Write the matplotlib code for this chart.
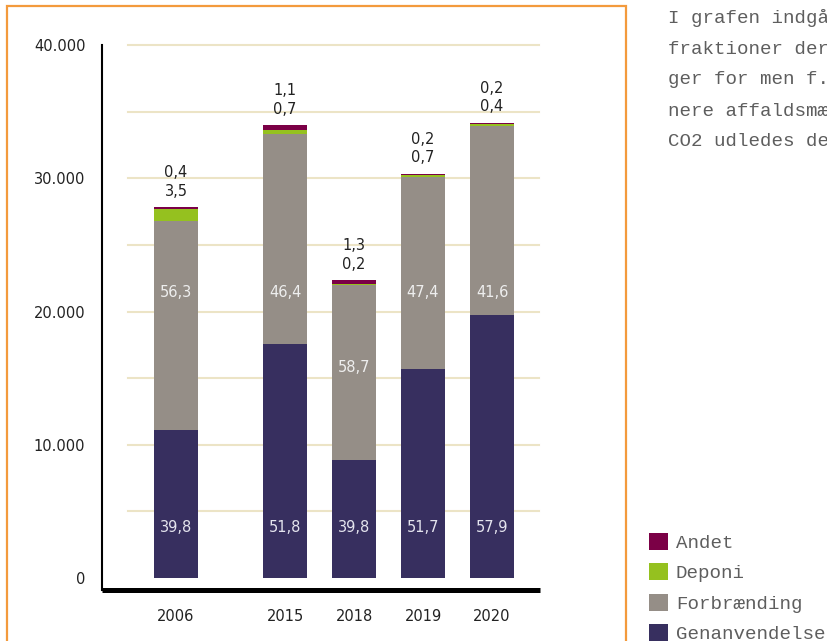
import numpy as np
import matplotlib.pyplot as plt
from matplotlib.patches import Rectangle

years = ["2006", "2015", "2018", "2019", "2020"]

# tonnes
genanvendelse = [11080, 17590, 8890, 15690, 19750]
forbraending = [15680, 15760, 13110, 14380, 14190]
deponi = [970, 240, 40, 210, 140]
andet = [110, 370, 290, 60, 70]

# percent labels as printed
gen_pct = ["39,8", "51,8", "39,8", "51,7", "57,9"]
forb_pct = ["56,3", "46,4", "58,7", "47,4", "41,6"]
dep_pct = ["3,5", "0,7", "0,2", "0,7", "0,4"]
andet_pct = ["0,4", "1,1", "1,3", "0,2", "0,2"]

side_text = ["I grafen indgår ikke de", "fraktioner der ikke", "ger for men f.eks.",
             "nere affaldsmængde", "CO2 udledes der"]

c_gen = "#372f5f"
c_forb = "#958e87"
c_dep = "#95c11f"
c_andet = "#7b0046"
num_font = "DejaVu Sans"
side_font = "Liberation Mono"

x = np.array([0, 1.58, 2.58, 3.58, 4.58])
w = 0.63

fig = plt.figure(figsize=(8.27, 6.41), dpi=100)
ax = fig.add_axes([102/827, 1-590/641, 438/827, 545/641])

gen = np.array(genanvendelse)
forb = np.array(forbraending)
dep = np.array(deponi)
oth = np.array(andet)

# gridlines
for yv in range(5000, 40001, 5000):
  ax.plot([-0.70, 5.26], [yv, yv], color="#ece4c6", lw=1.5, zorder=0, clip_on=False)

b_gen = ax.bar(x, gen, w, color=c_gen, zorder=2)
b_forb = ax.bar(x, forb, w, bottom=gen, color=c_forb, zorder=2)
b_dep = ax.bar(x, dep, w, bottom=gen+forb, color=c_dep, zorder=2)
b_oth = ax.bar(x, oth, w, bottom=gen+forb+dep, color=c_andet, zorder=2)

total = gen + forb + dep + oth
for i in range(len(x)):
  ax.text(x[i], 3800, gen_pct[i], ha="center", va="center", color="#e4e4ee",
          fontsize=10.5, family=num_font, zorder=3)
  yf = 21400 if total[i] > 25000 else 15800
  ax.text(x[i], yf, forb_pct[i], ha="center", va="center", color="#eeeeee",
          fontsize=10.5, family=num_font, zorder=3)
  ax.text(x[i], total[i] + 1200, dep_pct[i], ha="center", va="center", color="#222222",
          fontsize=10.5, family=num_font, zorder=3)
  ax.text(x[i], total[i] + 2600, andet_pct[i], ha="center", va="center", color="#222222",
          fontsize=10.5, family=num_font, zorder=3)

ax.set_xlim(-1.072, 5.275)
ax.set_ylim(-900, 40000)
ax.set_yticks([0, 10000, 20000, 30000, 40000])
ax.set_yticklabels(["0", "10.000", "20.000", "30.000", "40.000"])
ax.set_xticks(x)
ax.set_xticklabels(years)
ax.tick_params(axis="y", length=0, pad=12, labelsize=10.5, labelcolor="#222222")
ax.tick_params(axis="x", length=0, pad=14, labelsize=10.5, labelcolor="#222222")
for t in ax.get_xticklabels() + ax.get_yticklabels():
  t.set_family(num_font)

ax.spines["top"].set_visible(False)
ax.spines["right"].set_visible(False)
ax.spines["left"].set_linewidth(1.5)
ax.spines["bottom"].set_linewidth(3.6)
ax.spines["bottom"].set_capstyle("butt")

# orange frame round the chart
fig.add_artist(Rectangle((7/827, -0.05), (626-7)/827, 1.05 - 6/641, transform=fig.transFigure,
                         fill=False, edgecolor="#f39a3c", lw=1.6))

# side text, clipped by the figure edge
for k, line in enumerate(side_text):
  fig.text(668/827, 1 - (18 + 31*k)/641, line, ha="left", va="center",
           fontsize=13.8, family=side_font, color="#5e5e5e")

leg = fig.legend([b_oth, b_dep, b_forb, b_gen], ["Andet", "Deponi", "Forbrænding", "Genanvendelse"],
                 loc="upper left", bbox_to_anchor=(649/827, 1 - 533/641), frameon=False,
                 handlelength=1.0, handleheight=1.0, handletextpad=0.4, labelspacing=0.58,
                 borderaxespad=0, borderpad=0,
                 prop={"family": side_font, "size": 13.8})
for t in leg.get_texts():
  t.set_color("#5e5e5e")

plt.savefig("out.png", dpi=100)
